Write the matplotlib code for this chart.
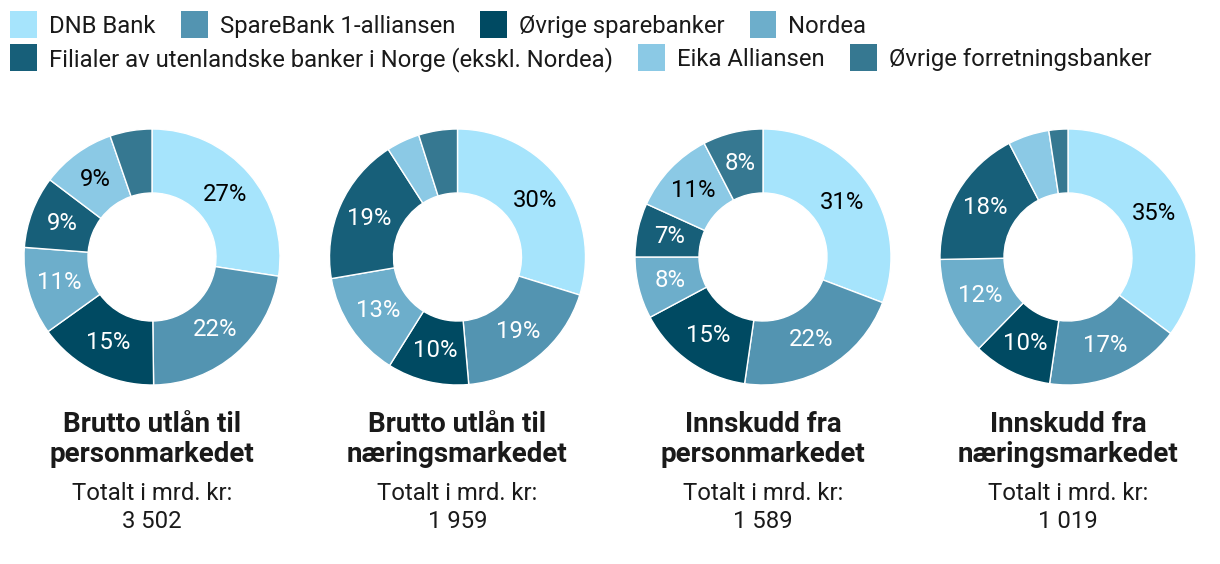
import matplotlib
matplotlib.use("Agg")
import matplotlib.pyplot as plt
from matplotlib.patches import Rectangle

plt.rcParams['font.family'] = ['Roboto', 'DejaVu Sans']

# ---- data ----
banks = ["DNB Bank", "SpareBank 1-alliansen", "Øvrige sparebanker", "Nordea",
         "Filialer av utenlandske banker i Norge (ekskl. Nordea)", "Eika Alliansen",
         "Øvrige forretningsbanker"]
titles = ["Brutto utlån til\npersonmarkedet", "Brutto utlån til\nnæringsmarkedet",
          "Innskudd fra\npersonmarkedet", "Innskudd fra\nnæringsmarkedet"]
totals = ["3 502", "1 959", "1 589", "1 019"]
share_pm_loans = [27.4, 22.4, 15.3, 11.1, 9.1, 9.4, 5.3]
share_nm_loans = [29.8, 18.8, 10.3, 13.4, 18.6, 4.2, 4.9]
share_pm_deposits = [30.8, 21.5, 14.9, 7.8, 6.8, 10.6, 7.6]
share_nm_deposits = [35.2, 17.1, 10.0, 12.4, 17.7, 5.2, 2.4]
series = [share_pm_loans, share_nm_loans, share_pm_deposits, share_nm_deposits]

# ---- style ----
colors = ['#a6e4fc', '#5394b1', '#004a62', '#6daecb', '#175f79', '#8bc9e5', '#367891']
label_colors = ['black', 'white', 'white', 'white', 'white', 'black', 'white']

W, H = 1220, 564
fig = plt.figure(figsize=(W / 100, H / 100), dpi=100)
fig.patch.set_facecolor('white')

def fx(x):
    return x / W

def fy(y):
    return 1 - y / H

centers_x = [152, 457.5, 763, 1068]
cy = 257
R = 128
FS = 17.2

for i, vals in enumerate(series):
    cx = centers_x[i]
    ax = fig.add_axes([fx(cx - R), fy(cy + R), 2 * R / W, 2 * R / H])
    wedges, texts, autotexts = ax.pie(
        vals, colors=colors, startangle=90, counterclock=False, radius=1,
        wedgeprops=dict(width=0.5, edgecolor='white', linewidth=1.0),
        autopct=lambda p: f"{p:.0f}%" if p >= 6 else "",
        pctdistance=0.75, textprops=dict(fontsize=FS))
    for t, c in zip(autotexts, label_colors):
        t.set_color(c)
    ax.set_xlim(-1.0, 1.0)
    ax.set_ylim(-1.0, 1.0)
    ax.set_aspect('equal')
    ax.axis('off')

    l1, l2 = titles[i].split("\n")
    fig.text(fx(cx), fy(432), l1, ha='center', va='baseline', fontsize=20,
             fontweight='bold', color='#1a1a1a')
    fig.text(fx(cx), fy(462), l2, ha='center', va='baseline', fontsize=20,
             fontweight='bold', color='#1a1a1a')
    fig.text(fx(cx), fy(500), "Totalt i mrd. kr:", ha='center', va='baseline',
             fontsize=FS, color='#1a1a1a')
    fig.text(fx(cx), fy(528), totals[i], ha='center', va='baseline',
             fontsize=FS, color='#1a1a1a')

# ---- legend (flow layout) ----
rows = [[0, 1, 2, 3], [4, 5, 6]]
row_centers = [24, 57]
sq = 27
fig.canvas.draw()
renderer = fig.canvas.get_renderer()
for r, idxs in enumerate(rows):
    x = 10
    yc = row_centers[r]
    for k in idxs:
        fig.add_artist(Rectangle((fx(x), fy(yc + sq / 2)), sq / W, sq / H,
                                 transform=fig.transFigure, facecolor=colors[k],
                                 edgecolor='none'))
        t = fig.text(fx(x + sq + 12), fy(yc), banks[k], ha='left', va='center_baseline',
                     fontsize=FS, color='#1a1a1a')
        bb = t.get_window_extent(renderer=renderer)
        x = x + sq + 12 + bb.width + 25

fig.savefig("out.png", dpi=100, facecolor='white')
